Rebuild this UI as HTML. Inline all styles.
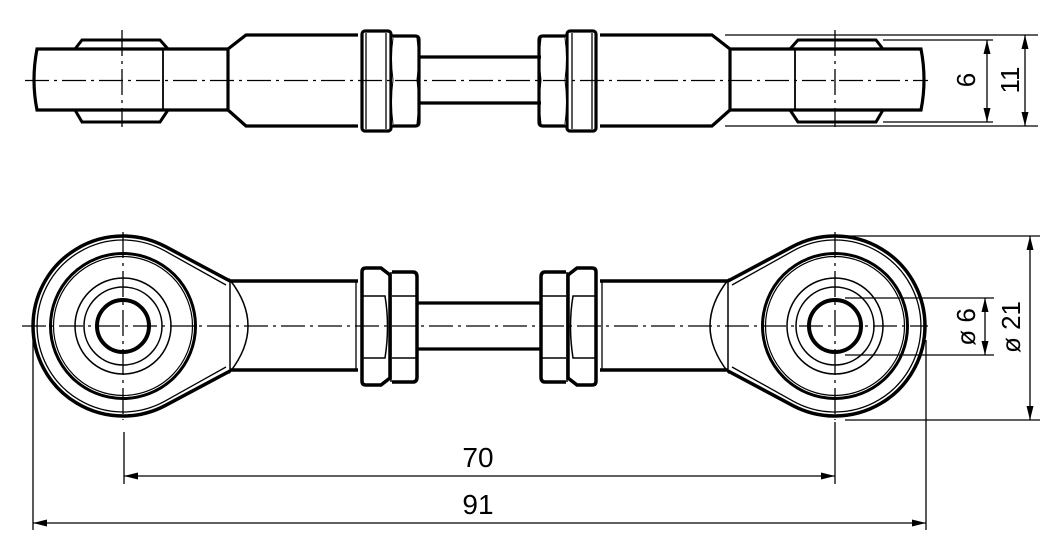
<!DOCTYPE html>
<html><head><meta charset="utf-8"><style>html,body{margin:0;padding:0;background:#fff}svg{display:block}</style></head>
<body>
<svg width="1063" height="555" viewBox="0 0 1063 555" xmlns="http://www.w3.org/2000/svg" font-family="Liberation Sans, sans-serif">
<defs>
<g id="topHalf" fill="none" stroke="#000">
  <!-- collar (caps only) -->
  <path d="M75,49 L82,40 L160,40 L168,49 M75,110 L82,122 L160,122 L168,110" stroke-width="3"/>
  <line x1="163" y1="49" x2="163" y2="110" stroke-width="1.8"/>
  <!-- rod end -->
  <path d="M228,49 L37,49 Q31,80 37,110 L228,110" stroke-width="3.2"/>
  <!-- body -->
  <path d="M228,49 L246,35 L358,35 M228,110 L246,126 L358,126 M228,49 L228,110" stroke-width="3.2"/>
  <!-- lock nut -->
  <rect x="362" y="31" width="29" height="100" rx="3" stroke-width="3.2" fill="#fff"/>
  <line x1="366" y1="33" x2="366" y2="129" stroke-width="1.3"/>
  <line x1="386" y1="33" x2="386" y2="129" stroke-width="1.3"/>
  <!-- hex nut -->
  <path d="M392,36 L415,36 Q419,36 419,40 L419,122 Q419,126 415,126 L392,126" stroke-width="3.2" fill="#fff"/>
  <path d="M393,38 Q390,58 393,80 Q390,102 393,124 M417,38 Q420,58 417,80 Q420,102 417,124" stroke-width="1"/>
</g>
<g id="botHalf" fill="none" stroke="#000">
  <path d="M230,281 L165.4,246.6 A90,90 0 1 0 165.4,405.4 L230,371" stroke-width="3.5"/>
  <path d="M226,285 L164.8,250.8 A86,86 0 1 0 164.8,401.2 L226,367" stroke-width="1.3"/>
  <circle cx="123" cy="326" r="72.5" stroke-width="3"/>
  <circle cx="123" cy="326" r="69.5" stroke-width="1.2"/>
  <circle cx="123" cy="326" r="48" stroke-width="1.5"/>
  <circle cx="123" cy="326" r="39" stroke-width="1.5"/>
  <circle cx="123" cy="326" r="26" stroke-width="4"/>
  <path d="M230,280 Q266,326 230,372 Z" stroke-width="1.5"/>
  <path d="M230,281 L358,281 M230,370 L358,370" stroke-width="3.5"/>
  <line x1="356" y1="281" x2="356" y2="370" stroke-width="1.3"/>
  <!-- lock nut -->
  <path d="M366,268 L381,268 L390,275 L390,378 L381,385 L366,385 Q362,385 362,381 L362,272 Q362,268 366,268 Z" stroke-width="3.5" fill="#fff"/>
  <path d="M362,296 L385,296 Q390,326 385,358 L362,358" stroke-width="1.5"/>
  <!-- hex nut -->
  <path d="M392,272 L413,272 Q417,272 417,277 L417,377 Q417,382 413,382 L392,382" stroke-width="3.5" fill="#fff"/>
  <line x1="392" y1="296" x2="417" y2="296" stroke-width="1.5"/>
  <line x1="392" y1="358" x2="417" y2="358" stroke-width="1.5"/>
  <line x1="391" y1="272" x2="391" y2="382" stroke-width="1.5"/>
</g>
<g id="ah"><path d="M0,0 L14,-3.5 L14,3.5 Z" fill="#000"/></g>
</defs>

<!-- TOP VIEW -->
<use href="#topHalf"/>
<use href="#topHalf" transform="translate(958,0) scale(-1,1)"/>
<path d="M418,57 L541,57 M418,103 L541,103" stroke="#000" stroke-width="3.2"/>
<line x1="25" y1="80.5" x2="928" y2="80.5" stroke="#000" stroke-width="1.3" stroke-dasharray="24,5,3,5"/>
<line x1="122" y1="30" x2="122" y2="127" stroke="#000" stroke-width="1.3" stroke-dasharray="26,5,3,5"/>
<line x1="835" y1="30" x2="835" y2="127" stroke="#000" stroke-width="1.3" stroke-dasharray="26,5,3,5"/>
<g stroke="#000" stroke-width="1.3">
<line x1="725" y1="35" x2="1038" y2="35"/>
<line x1="725" y1="126" x2="1038" y2="126"/>
<line x1="883" y1="40" x2="993" y2="40"/>
<line x1="883" y1="122" x2="993" y2="122"/>
<line x1="987" y1="40" x2="987" y2="122"/>
<line x1="1025" y1="35" x2="1025" y2="126"/>
</g>
<use href="#ah" transform="translate(987,40) rotate(90)"/>
<use href="#ah" transform="translate(987,122) rotate(-90)"/>
<use href="#ah" transform="translate(1025,35) rotate(90)"/>
<use href="#ah" transform="translate(1025,126) rotate(-90)"/>
<text transform="translate(975,80) rotate(-90)" text-anchor="middle" font-size="26">6</text>
<text transform="translate(1019,80) rotate(-90)" text-anchor="middle" font-size="26">11</text>

<!-- BOTTOM VIEW -->
<use href="#botHalf"/>
<use href="#botHalf" transform="translate(958,0) scale(-1,1)"/>
<path d="M417,303 L541,303 M417,349 L541,349" stroke="#000" stroke-width="3.2"/>
<line x1="22" y1="326" x2="928" y2="326" stroke="#000" stroke-width="1.3" stroke-dasharray="24,5,3,5"/>
<line x1="123" y1="232" x2="123" y2="420" stroke="#000" stroke-width="1.3" stroke-dasharray="26,5,3,5"/>
<line x1="835" y1="232" x2="835" y2="420" stroke="#000" stroke-width="1.3" stroke-dasharray="26,5,3,5"/>

<g stroke="#000" stroke-width="1.3">
<line x1="845" y1="298" x2="994" y2="298"/>
<line x1="845" y1="355" x2="994" y2="355"/>
<line x1="845" y1="236" x2="1040" y2="236"/>
<line x1="845" y1="420" x2="1040" y2="420"/>
<line x1="985" y1="298" x2="985" y2="355"/>
<line x1="1030" y1="236" x2="1030" y2="420"/>
<line x1="33" y1="330" x2="33" y2="530"/>
<line x1="926" y1="340" x2="926" y2="530"/>
<line x1="124" y1="432" x2="124" y2="484"/>
<line x1="835" y1="422" x2="835" y2="484"/>
<line x1="124" y1="476" x2="835" y2="476"/>
<line x1="33" y1="523" x2="926" y2="523"/>
</g>
<use href="#ah" transform="translate(985,298) rotate(90)"/>
<use href="#ah" transform="translate(985,355) rotate(-90)"/>
<use href="#ah" transform="translate(1030,236) rotate(90)"/>
<use href="#ah" transform="translate(1030,420) rotate(-90)"/>
<use href="#ah" transform="translate(124,476)"/>
<use href="#ah" transform="translate(835,476) rotate(180)"/>
<use href="#ah" transform="translate(33,523)"/>
<use href="#ah" transform="translate(926,523) rotate(180)"/>
<text transform="translate(975,327) rotate(-90)" text-anchor="middle" font-size="26">ø 6</text>
<text transform="translate(1020,327) rotate(-90)" text-anchor="middle" font-size="26">ø 21</text>
<text x="478" y="467" text-anchor="middle" font-size="28">70</text>
<text x="478" y="514" text-anchor="middle" font-size="28">91</text>
</svg>
</body></html>
